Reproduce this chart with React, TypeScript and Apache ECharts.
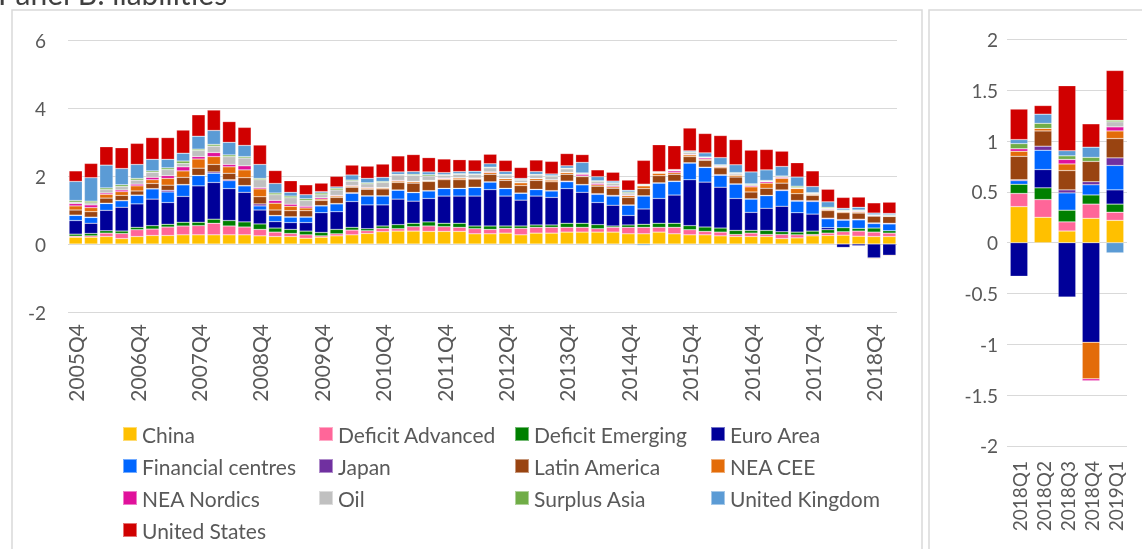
import React, { useEffect, useRef } from "react";
import * as echarts from "echarts";

// ---------- Data ----------
const quarters: string[] = [];
(() => {
  quarters.push("2005Q4");
  for (let y = 2006; y <= 2018; y++) for (let q = 1; q <= 4; q++) quarters.push(`${y}Q${q}`);
  quarters.push("2019Q1");
})();
const recentQuarters = ["2018Q1", "2018Q2", "2018Q3", "2018Q4", "2019Q1"];

const seriesNames = [
  "China", "Deficit Advanced", "Deficit Emerging", "Euro Area", "Financial centres", "Japan",
  "Latin America", "NEA CEE", "NEA Nordics", "Oil", "Surplus Asia", "United Kingdom", "United States",
];
const seriesColors = [
  "#FFC000", "#FF6699", "#008000", "#000099", "#0066FF", "#7030A0",
  "#994411", "#E36C09", "#E0119B", "#C0C0C0", "#70AD47", "#5B9BD5", "#D00000",
];

// Left panel (2005Q4 - 2019Q1)
const china = [0.2,0.2,0.22,0.16,0.22,0.25,0.25,0.27,0.27,0.27,0.27,0.27,0.24,0.22,0.22,0.17,0.2,0.24,0.27,0.31,0.36,0.38,0.38,0.37,0.37,0.37,0.3,0.3,0.32,0.27,0.32,0.32,0.35,0.35,0.35,0.35,0.3,0.3,0.35,0.3,0.27,0.27,0.24,0.22,0.22,0.22,0.16,0.18,0.24,0.25,0.26,0.23,0.22,0.22];
const deficitAdvanced = [0.03,0.04,0.1,0.15,0.2,0.19,0.25,0.26,0.27,0.34,0.26,0.23,0.19,0.13,0.09,0.1,0.04,0.06,0.14,0.08,0.1,0.07,0.13,0.16,0.14,0.12,0.15,0.13,0.14,0.19,0.17,0.17,0.14,0.14,0.1,0.14,0.19,0.19,0.14,0.19,0.15,0.1,0.11,0.06,0.1,0.06,0.12,0.09,0.04,0.07,0.1,0.15,0.13,0.1];
const deficitEmerging = [0.06,0.07,0.07,0.07,0.07,0.1,0.08,0.11,0.1,0.12,0.16,0.15,0.16,0.12,0.12,0.11,0.1,0.13,0.08,0.06,0.07,0.12,0.1,0.12,0.1,0.12,0.08,0.1,0.07,0.07,0.07,0.07,0.12,0.12,0.12,0.04,0.07,0.09,0.12,0.12,0.12,0.13,0.12,0.12,0.08,0.12,0.08,0.08,0.1,0.1,0.12,0.08,0.12,0.07];
const euroArea = [0.4,0.3,0.6,0.7,0.69,0.78,0.64,0.76,1.07,1.08,0.94,0.87,0.41,0.19,0.2,0.25,0.58,0.52,0.76,0.7,0.62,0.75,0.65,0.69,0.8,0.8,0.88,1.07,0.88,0.76,0.85,0.81,1.02,0.91,0.65,0.61,0.28,0.45,0.73,0.83,1.35,1.32,1.2,0.94,0.53,0.65,0.75,0.57,0.5,0.06,-0.1,-0.05,-0.41,-0.33];
const financialCentres = [0.15,0.17,0.2,0.19,0.25,0.3,0.31,0.34,0.3,0.27,0.23,0.19,0.12,0.17,0.16,0.16,0.2,0.23,0.24,0.26,0.26,0.26,0.25,0.22,0.22,0.22,0.25,0.22,0.22,0.2,0.19,0.19,0.2,0.22,0.24,0.27,0.3,0.38,0.45,0.4,0.49,0.43,0.35,0.42,0.39,0.37,0.46,0.34,0.37,0.26,0.22,0.25,0.13,0.2];
const japan = [0.01,0.01,0.01,0.01,0.01,0.01,0.05,0.01,0.01,0.04,0.03,0.01,0.06,0.01,0.01,0.01,0.01,0.01,0.02,0.01,0.01,0.01,0.01,0.01,0.01,0.01,0.01,0.01,0.01,0.01,0.01,0.01,0.02,0.01,0.02,0.02,0.01,0.01,0.01,0.01,0.01,0.01,0.02,0.01,0.01,0.01,0.02,0.02,0.02,0.02,0.02,0.02,0.02,0.02];
const latinAmerica = [0.15,0.16,0.15,0.15,0.12,0.15,0.15,0.21,0.21,0.22,0.19,0.23,0.21,0.16,0.18,0.18,0.15,0.18,0.16,0.19,0.2,0.22,0.27,0.27,0.25,0.25,0.24,0.22,0.23,0.22,0.26,0.26,0.2,0.23,0.22,0.21,0.22,0.21,0.21,0.2,0.18,0.2,0.2,0.2,0.2,0.21,0.2,0.2,0.16,0.22,0.2,0.18,0.2,0.2];
const neaCee = [0.12,0.12,0.11,0.11,0.15,0.11,0.2,0.19,0.27,0.23,0.19,0.23,0.23,0.2,0.13,0.08,0.04,0.04,0.03,0.03,0.03,0.04,0.04,0.02,0.03,0.05,0.02,0.05,0.05,0.08,0.05,0.05,0.05,0.02,0.04,0.04,0.05,0.08,0.07,0.05,0.05,0.03,0.03,0.05,0.15,0.15,0.14,0.15,0.03,0.03,0.03,0.03,-0.02,-0.02];
const neaNordics = [0.07,0.08,0.04,0.05,0.05,0.07,0.08,0.12,0.07,0.12,0.07,0.12,0.04,0.08,0.06,0.05,0.04,0.02,0.02,0.02,0.01,0.02,0.01,0.01,0.02,0.01,0.01,0.02,0.01,0.01,0.01,0.01,0.01,0.05,0.04,0.03,0.02,0.01,0.01,0.05,0.02,0.04,0.02,0.01,0.03,0.04,0.03,0.01,0.01,0.02,0.01,0.02,0.01,0.01];
const oil = [0.04,0.06,0.1,0.1,0.12,0.15,0.18,0.1,0.18,0.19,0.23,0.23,0.23,0.17,0.19,0.17,0.09,0.16,0.13,0.11,0.15,0.16,0.18,0.13,0.08,0.1,0.1,0.12,0.1,0.07,0.1,0.1,0.1,0.02,0.06,0.07,0.06,0.02,0.02,0.02,0.05,0.02,0.02,0.05,0.04,0.02,0.02,0.02,0.02,0.02,0.02,0.02,0.02,0.02];
const surplusAsia = [0.05,0.05,0.05,0.05,0.05,0.04,0.05,0.07,0.04,0.05,0.05,0.04,0.04,0.05,0.05,0.05,0.05,0.05,0.03,0.03,0.03,0.02,0.03,0.04,0.02,0.02,0.02,0.02,0.02,0.02,0.02,0.02,0.02,0.02,0.02,0.02,0.03,0.02,0.02,0.01,0.02,0.01,0.02,0.02,0.02,0.02,0.02,0.04,0.02,0.03,0.02,0.02,0.01,0.02];
const unitedKingdom = [0.56,0.69,0.67,0.48,0.41,0.34,0.25,0.23,0.38,0.41,0.37,0.33,0.41,0.28,0.11,0.12,0.04,0.04,0.15,0.13,0.12,0.07,0.08,0.08,0.06,0.06,0.08,0.1,0.08,0.03,0.08,0.05,0.07,0.31,0.12,0.05,0.05,-0.04,0,0.01,0.03,0.12,0.21,0.23,0.35,0.31,0.28,0.27,0.18,0.16,0.05,0.08,0.05,0.04];
const unitedStates = [0.31,0.42,0.54,0.61,0.62,0.64,0.64,0.68,0.63,0.6,0.61,0.53,0.57,0.38,0.34,0.29,0.25,0.31,0.29,0.36,0.39,0.47,0.5,0.42,0.4,0.35,0.33,0.28,0.33,0.32,0.34,0.37,0.36,0.23,0.2,0.26,0.3,0.7,0.79,0.7,0.67,0.57,0.65,0.74,0.64,0.6,0.45,0.42,0.46,0.37,0.32,0.3,0.3,0.33];

// Right panel (2018Q1 - 2019Q1)
const chinaR = [0.355, 0.25, 0.115, 0.24, 0.22];
const deficitAdvancedR = [0.13, 0.175, 0.09, 0.14, 0.08];
const deficitEmergingR = [0.09, 0.115, 0.115, 0.09, 0.08];
const euroAreaR = [-0.33, 0.18, -0.535, -0.98, 0.14];
const financialCentresR = [0.035, 0.19, 0.17, 0.1, 0.24];
const japanR = [0.01, 0.04, 0.03, 0.03, 0.075];
const latinAmericaR = [0.23, 0.15, 0.19, 0.2, 0.19];
const neaCeeR = [0.05, 0.025, 0.065, -0.36, 0.075];
const neaNordicsR = [0.025, 0, 0.045, -0.02, 0.04];
const oilR = [0, 0, 0, 0, 0.05];
const surplusAsiaR = [0.05, 0.05, 0.035, 0.04, 0.015];
const unitedKingdomR = [0.04, 0.09, 0.05, 0.1, -0.1];
const unitedStatesR = [0.3, 0.085, 0.64, 0.23, 0.49];

const leftData = [china, deficitAdvanced, deficitEmerging, euroArea, financialCentres, japan, latinAmerica, neaCee, neaNordics, oil, surplusAsia, unitedKingdom, unitedStates];
const rightData = [chinaR, deficitAdvancedR, deficitEmergingR, euroAreaR, financialCentresR, japanR, latinAmericaR, neaCeeR, neaNordicsR, oilR, surplusAsiaR, unitedKingdomR, unitedStatesR];

const legendColumns = [
  ["China", "Financial centres", "NEA Nordics", "United States"],
  ["Deficit Advanced", "Japan", "Oil"],
  ["Deficit Emerging", "Latin America", "Surplus Asia"],
  ["Euro Area", "NEA CEE", "United Kingdom"],
];

const FONT = "Lato, 'Open Sans', sans-serif";
const LABEL = "#595959";
const GRID = "#D9D9D9";

export default function App() {
  const ref = useRef<HTMLDivElement>(null);
  useEffect(() => {
    if (!ref.current) return;
    const chart = echarts.init(ref.current, undefined, { renderer: "svg" });
    const series: any[] = [];
    seriesNames.forEach((name, i) => {
      series.push({
        name, type: "bar", stack: "L", xAxisIndex: 0, yAxisIndex: 0,
        data: leftData[i], barCategoryGap: "14%",
        itemStyle: { color: seriesColors[i], borderColor: "rgba(255,255,255,0.45)", borderWidth: 0.5 },
      });
    });
    seriesNames.forEach((name, i) => {
      series.push({
        name, type: "bar", stack: "R", xAxisIndex: 1, yAxisIndex: 1,
        data: rightData[i], barCategoryGap: "27%",
        itemStyle: { color: seriesColors[i], borderColor: "rgba(255,255,255,0.45)", borderWidth: 0.5 },
      });
    });
    const legendLefts = [122, 318, 514, 710];
    chart.setOption({
      animation: false,
      textStyle: { fontFamily: FONT },
      graphic: [
        { type: "rect", silent: true, shape: { x: 12, y: 10, width: 910, height: 560 }, style: { fill: "none", stroke: GRID, lineWidth: 1.5 } },
        { type: "rect", silent: true, shape: { x: 929, y: 10, width: 240, height: 560 }, style: { fill: "none", stroke: GRID, lineWidth: 1.5 } },
        { type: "text", silent: true, x: -2, y: 8, style: { text: "Panel B: liabilities", font: `30px ${FONT}`, fill: "#404040", textVerticalAlign: "bottom" } },
      ],
      grid: [
        { left: 68, top: 40, width: 829, height: 272 },
        { left: 1007, top: 39.5, width: 120, height: 406.4 },
      ],
      xAxis: [
        {
          type: "category", gridIndex: 0, data: quarters,
          axisLine: { show: false, onZero: false }, axisTick: { show: false },
          axisLabel: { interval: 3, rotate: 90, fontSize: 21, color: LABEL, margin: 12, fontFamily: FONT },
        },
        {
          type: "category", gridIndex: 1, data: recentQuarters,
          axisLine: { show: false, onZero: false }, axisTick: { show: false },
          axisLabel: { interval: 0, rotate: 90, fontSize: 19, color: LABEL, margin: 15, fontFamily: FONT },
        },
      ],
      yAxis: [
        {
          type: "value", gridIndex: 0, min: -2, max: 6, interval: 2,
          axisLine: { show: false }, axisTick: { show: false },
          axisLabel: { fontSize: 19, color: LABEL, margin: 22, fontFamily: FONT },
          splitLine: { lineStyle: { color: GRID, width: 1 } },
        },
        {
          type: "value", gridIndex: 1, min: -2, max: 2, interval: 0.5,
          axisLine: { show: false }, axisTick: { show: false },
          axisLabel: { fontSize: 19, color: LABEL, margin: 9, fontFamily: FONT },
          splitLine: { lineStyle: { color: GRID, width: 1 } },
        },
      ],
      legend: legendColumns.map((col, k) => ({
        data: col, orient: "vertical", left: legendLefts[k], top: 423.5, padding: 0,
        itemWidth: 14, itemHeight: 14, itemGap: 11, icon: "rect", selectedMode: false,
        textStyle: { fontSize: 21, color: LABEL, fontFamily: FONT, lineHeight: 21 },
      })),
      series,
    });
    return () => chart.dispose();
  }, []);
  return <div ref={ref} style={{ position: "fixed", left: 0, top: 0, width: 1142, height: 549 }} />;
}
